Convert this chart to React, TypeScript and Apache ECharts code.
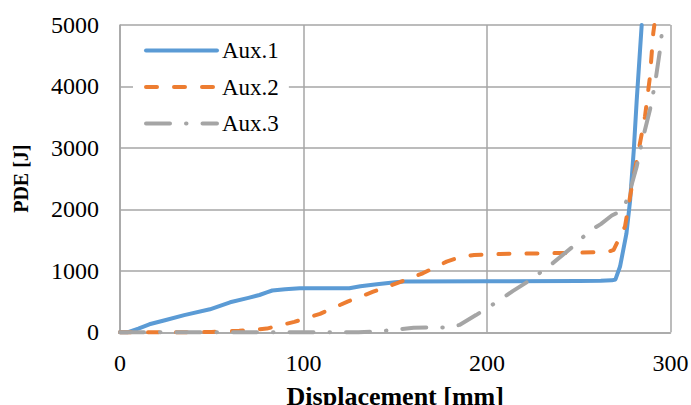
import React, { useEffect, useRef } from "react";
import * as echarts from "echarts";

const xTicks = [0, 100, 200, 300];
const yTicks = [0, 1000, 2000, 3000, 4000, 5000];

const aux1: [number, number][] = [
  [0, 0], [4, 0], [10, 60], [16, 130], [25, 200], [35, 280], [49, 374], [60, 488],
  [70, 560], [76, 607], [80, 650], [83, 680], [90, 700], [98, 716], [125, 716],
  [131, 750], [140, 780], [150, 815], [155, 825], [200, 830], [250, 835], [262, 838],
  [268, 845], [270, 860], [272.5, 1070], [274, 1300], [276, 1610], [278, 2150],
  [280, 2970], [281.6, 3780], [284.3, 5000],
];

const aux2: [number, number][] = [
  [0, 0], [20, 0], [50, 5], [65, 25], [80, 60], [95, 170], [109, 300], [124, 500],
  [138, 660], [151, 800], [165, 960], [178, 1150], [186, 1230], [193, 1258], [207, 1274],
  [250, 1295], [266, 1310], [269, 1340], [271.6, 1500], [275.2, 1720], [278.9, 2370],
  [281.6, 2800], [286.1, 3510], [288.8, 4160], [290.6, 4865], [291.2, 5000],
];

const aux3: [number, number][] = [
  [0, 0], [130, 0], [140, 15], [150, 40], [160, 75], [180, 80], [185, 120], [194, 280],
  [207, 525], [214, 670], [222, 820], [234, 1080], [247, 1400], [256, 1650], [262, 1760],
  [268, 1900], [272, 1960], [275, 2050], [279, 2420], [281.6, 2700], [284.3, 3080],
  [288.8, 3620], [291.6, 4050], [294.3, 4600], [295.8, 5000],
];

const seriesNames = ["Aux.1", "Aux.2", "Aux.3"];
const FONT = '"Liberation Serif", "Times New Roman", serif';

export default function App() {
  const ref = useRef<HTMLDivElement>(null);
  useEffect(() => {
    document.body.style.margin = "0";
    if (!ref.current) return;
    const chart = echarts.init(ref.current, undefined, { renderer: "svg" });
    const grid = "#a6a6a6";
    chart.setOption({
      animation: false,
      textStyle: { fontFamily: FONT, color: "#000" },
      grid: { left: 120, right: 20.5, top: 25, bottom: 72.7, containLabel: false, outerBoundsMode: "none" },
      legend: {
        data: seriesNames,
        left: 133,
        top: 28,
        orient: "vertical",
        itemWidth: 71,
        itemHeight: 22,
        itemGap: 13.5,
        padding: [11, 10, 10, 11],
        backgroundColor: "#fff",
        itemStyle: { opacity: 0 },
        lineStyle: { width: 4 },
        textStyle: { fontFamily: FONT, fontSize: 23, color: "#000" },
      },
      xAxis: {
        type: "value",
        min: xTicks[0],
        max: xTicks[xTicks.length - 1],
        interval: 100,
        name: "Displacement [mm]",
        nameLocation: "middle",
        nameGap: 51,
        nameTextStyle: { fontFamily: FONT, fontSize: 26, fontWeight: "bold", color: "#000" },
        axisLine: { show: true, lineStyle: { color: grid, width: 1.5 } },
        axisTick: { show: false },
        axisLabel: { fontFamily: FONT, fontSize: 24, color: "#000", margin: 19, formatter: (v: number) => String(v) },
        splitLine: { show: true, lineStyle: { color: grid, width: 1.5 } },
      },
      yAxis: {
        type: "value",
        min: yTicks[0],
        max: yTicks[yTicks.length - 1],
        interval: 1000,
        name: "PDE [J]",
        nameLocation: "middle",
        nameGap: 89,
        nameRotate: 90,
        nameTextStyle: { fontFamily: FONT, fontSize: 20, fontWeight: "bold", color: "#000" },
        axisLine: { show: true, lineStyle: { color: grid, width: 1.5 } },
        axisTick: { show: false },
        axisLabel: { fontFamily: FONT, fontSize: 24, color: "#000", margin: 21, formatter: (v: number) => String(v) },
        splitLine: { show: true, lineStyle: { color: grid, width: 1.5 } },
      },
      series: [
        {
          name: seriesNames[0],
          type: "line",
          data: aux1,
          showSymbol: false,
          symbol: "none",
          clip: false,
          color: "#5B9BD5",
          lineStyle: { color: "#5B9BD5", width: 4, cap: "round", join: "round" },
        },
        {
          name: seriesNames[1],
          type: "line",
          data: aux2,
          showSymbol: false,
          symbol: "none",
          clip: false,
          color: "#ED7D31",
          lineStyle: { color: "#ED7D31", width: 4, type: [11, 17], cap: "round", join: "round" },
        },
        {
          name: seriesNames[2],
          type: "line",
          data: aux3,
          showSymbol: false,
          symbol: "none",
          clip: false,
          color: "#A5A5A5",
          lineStyle: { color: "#A5A5A5", width: 4, type: [24, 16, 0.5, 16], cap: "round", join: "round" },
        },
      ],
    });
    return () => chart.dispose();
  }, []);
  return <div ref={ref} style={{ width: 691, height: 405 }} />;
}
